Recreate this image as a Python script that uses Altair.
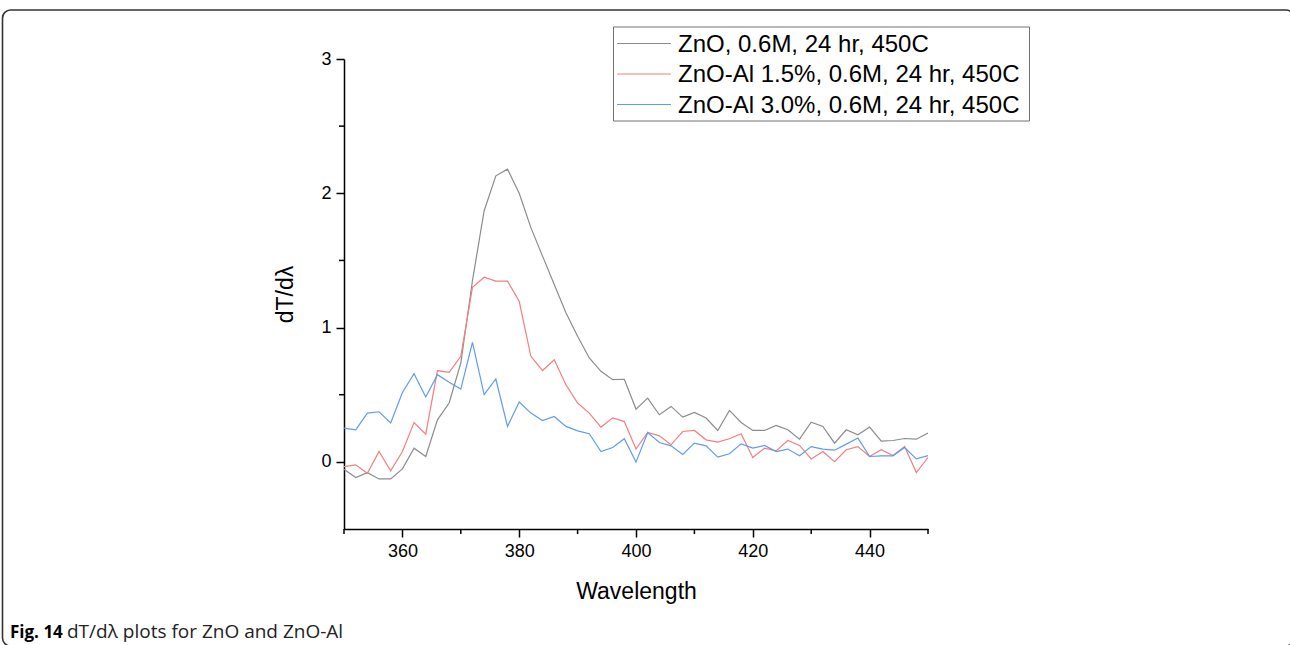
import altair as alt
import pandas as pd

# ---- data ----
wavelength = [350, 352, 354, 356, 358, 360, 362, 364, 366, 368, 370, 372, 374, 376, 378,
              380, 382, 384, 386, 388, 390, 392, 394, 396, 398, 400, 402, 404, 406, 408,
              410, 412, 414, 416, 418, 420, 422, 424, 426, 428, 430, 432, 434, 436, 438,
              440, 442, 444, 446, 448, 450]

zno = [-0.055, -0.117, -0.08, -0.127, -0.127, -0.052, 0.102, 0.04, 0.313, 0.438, 0.736,
       1.35, 1.87, 2.13, 2.18, 2.0, 1.744, 1.532, 1.32, 1.11, 0.935, 0.774, 0.674, 0.612,
       0.615, 0.393, 0.475, 0.351, 0.413, 0.333, 0.368, 0.326, 0.234, 0.383, 0.293, 0.234,
       0.234, 0.271, 0.239, 0.169, 0.296, 0.264, 0.139, 0.239, 0.201, 0.259, 0.154, 0.159,
       0.174, 0.169, 0.214]

zno_al15 = [-0.035, -0.022, -0.085, 0.077, -0.067, 0.077, 0.293, 0.206, 0.68, 0.666, 0.786,
            1.30, 1.375, 1.346, 1.346, 1.196, 0.786, 0.68, 0.76, 0.575, 0.438, 0.363, 0.259,
            0.328, 0.30, 0.095, 0.219, 0.194, 0.127, 0.226, 0.234, 0.164, 0.147, 0.172, 0.209,
            0.032, 0.102, 0.082, 0.159, 0.122, 0.022, 0.077, 0.002, 0.09, 0.114, 0.04, 0.09,
            0.047, 0.114, -0.08, 0.032]

zno_al30 = [0.251, 0.239, 0.363, 0.373, 0.289, 0.517, 0.657, 0.483, 0.649, 0.592, 0.542,
            0.89, 0.50, 0.617, 0.264, 0.446, 0.363, 0.308, 0.338, 0.264, 0.231, 0.209, 0.077,
            0.107, 0.172, -0.002, 0.219, 0.144, 0.119, 0.055, 0.139, 0.119, 0.035, 0.06, 0.134,
            0.102, 0.122, 0.077, 0.095, 0.045, 0.114, 0.095, 0.087, 0.132, 0.177, 0.04, 0.045,
            0.045, 0.107, 0.022, 0.047]

series_names = ["ZnO, 0.6M, 24 hr, 450C",
                "ZnO-Al 1.5%, 0.6M, 24 hr, 450C",
                "ZnO-Al 3.0%, 0.6M, 24 hr, 450C"]
series_colors = ["#8c8c8c", "#f47f7f", "#5e9cf0"]

x_major = [360, 380, 400, 420, 440]
x_minor = [350, 370, 390, 410, 430, 450]
y_major = [0, 1, 2, 3]
y_minor = [0.5, 1.5, 2.5]

x_title = "Wavelength"
y_title = "dT/dλ"
caption_bold = "Fig. 14"
caption_rest = "dT/dλ plots for ZnO and ZnO-Al"

# ---- tables ----
rows = []
for name, vals in zip(series_names, [zno, zno_al15, zno_al30]):
    for w, v in zip(wavelength, vals):
        rows.append({"wl": w, "val": v, "series": name})
df = pd.DataFrame(rows)

FONT = "Liberation Sans"
xscale = alt.Scale(domain=[350, 450], nice=False, zero=False)
yscale = alt.Scale(domain=[-0.5, 3], nice=False, zero=False)
cscale = alt.Scale(domain=series_names, range=series_colors)

xaxis = alt.Axis(values=x_major, tickSize=8, labelPadding=5, grid=False,
                 titleY=69, titleBaseline="alphabetic")
yaxis = alt.Axis(values=y_major, tickSize=8, labelPadding=5, grid=False,
                 titleX=-59, titleY=235, titleAngle=-90, titleBaseline="middle",
                 titleAlign="center")

lines = alt.Chart(df).mark_line(strokeWidth=1.2, clip=True).encode(
    x=alt.X("wl:Q", scale=xscale, title=x_title, axis=xaxis),
    y=alt.Y("val:Q", scale=yscale, title=y_title, axis=yaxis),
    color=alt.Color("series:N", scale=cscale, legend=None),
    detail="series:N",
)

xminor = alt.Chart(pd.DataFrame({"wl": x_minor})).mark_rule(color="black", strokeWidth=1.5).encode(
    x=alt.X("wl:Q", scale=xscale, title=x_title, axis=xaxis),
    y=alt.value(470), y2=alt.value(475),
)
yminor = alt.Chart(pd.DataFrame({"val": y_minor})).mark_rule(color="black", strokeWidth=1.5).encode(
    y=alt.Y("val:Q", scale=yscale, title=y_title, axis=yaxis),
    x=alt.value(0), x2=alt.value(-5),
)

one = pd.DataFrame({"a": [0]})

frame = alt.Chart(one).mark_rect(fill=None, stroke="#333333", strokeWidth=1.6,
                                 cornerRadius=8).encode(
    x=alt.value(-341.5), x2=alt.value(950), y=alt.value(-49), y2=alt.value(587),
)

legend_box = alt.Chart(one).mark_rect(fill="white", stroke="#707070", strokeWidth=1).encode(
    x=alt.value(269.5), x2=alt.value(685.5), y=alt.value(-32), y2=alt.value(62),
)

legend_layers = []
for i, (name, col) in enumerate(zip(series_names, series_colors)):
    yi = -15.5 + i * 30.5
    d = pd.DataFrame({"name": [name]})
    legend_layers.append(
        alt.Chart(d).mark_rule(color=col, strokeWidth=1.2).encode(
            x=alt.value(273), x2=alt.value(327), y=alt.value(yi))
    )
    legend_layers.append(
        alt.Chart(d).mark_text(align="left", baseline="middle", font=FONT, fontSize=24,
                               color="black").encode(
            text="name:N", x=alt.value(334), y=alt.value(yi + 1))
    )

cap1 = alt.Chart(pd.DataFrame({"t": [caption_bold]})).mark_text(
    align="left", baseline="alphabetic", font="Open Sans", fontSize=17, fontWeight="bold",
    color="black").encode(text="t:N", x=alt.value(-334), y=alt.value(579))
cap2 = alt.Chart(pd.DataFrame({"t": [caption_rest]})).mark_text(
    align="left", baseline="alphabetic", font="Open Sans", fontSize=19,
    color="#222222").encode(text="t:N", x=alt.value(-277), y=alt.value(579))

chart = alt.layer(
    frame, lines, xminor, yminor, legend_box, *legend_layers, cap1, cap2
).properties(
    width=584, height=470,
    autosize=alt.AutoSizeParams(type="none"),
    padding={"left": 344, "top": 59, "right": 362, "bottom": 116},
    background="white",
).configure_view(stroke=None).configure_axis(
    domainColor="black", domainWidth=1.5, tickColor="black", tickWidth=1.5,
    labelFont=FONT, labelFontSize=18, labelColor="black",
    titleFont=FONT, titleFontSize=23, titleColor="black", titleFontWeight="normal",
)

chart.save("out.html", embed_options={"renderer": "svg", "actions": False})
